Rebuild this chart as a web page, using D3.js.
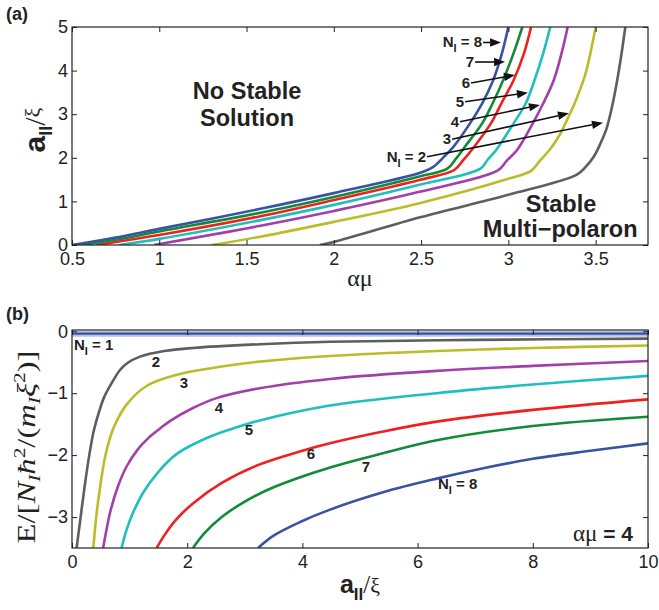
<!DOCTYPE html>
<html><head><meta charset="utf-8">
<script src="https://cdn.jsdelivr.net/npm/d3@7/dist/d3.min.js"></script>
<style>body{margin:0;background:#fff}svg{display:block}</style>
</head><body>
<svg id="chart" width="659" height="610"></svg>
<script>
// ---------- data: panel (a)  a_II/xi vs alpha*mu ----------
const aN8 = [[0.5,0],[0.75,0.17],[1.0,0.37],[1.58,0.83],[2.0,1.19],[2.49,1.65],[2.57,1.79],[2.625,2.0],[2.685,2.25],[2.78,2.79],[2.85,3.25],[2.91,3.75],[2.96,4.35],[3.0,5]];
const aN7 = [[0.56,0],[0.75,0.12],[1.0,0.31],[1.58,0.74],[2.0,1.1],[2.49,1.57],[2.65,1.75],[2.70,1.98],[2.75,2.25],[2.85,2.79],[2.91,3.25],[2.97,3.78],[3.03,4.4],[3.08,5]];
const aN6 = [[0.64,0],[0.75,0.07],[1.0,0.23],[1.58,0.66],[2.0,1.03],[2.49,1.49],[2.69,1.72],[2.74,1.94],[2.79,2.18],[2.90,2.79],[2.96,3.25],[3.03,3.78],[3.09,4.4],[3.13,5]];
const aN5 = [[0.77,0],[1.0,0.14],[1.58,0.57],[2.0,0.92],[2.49,1.38],[2.84,1.75],[2.88,1.95],[2.93,2.18],[3.03,2.79],[3.10,3.25],[3.15,3.78],[3.20,4.4],[3.24,5]];
const aN4 = [[0.97,0],[1.58,0.44],[2.0,0.78],[2.49,1.22],[2.94,1.71],[2.99,1.93],[3.05,2.18],[3.14,2.79],[3.20,3.25],[3.26,3.78],[3.305,4.4],[3.34,5]];
const aN3 = [[1.30,0],[1.58,0.19],[2.0,0.53],[2.49,0.96],[3.0,1.52],[3.13,1.70],[3.18,1.93],[3.24,2.2],[3.29,2.5],[3.34,2.9],[3.39,3.35],[3.44,3.9],[3.47,4.4],[3.50,5]];
const aN2 = [[1.92,0],[2.0,0.07],[2.5,0.64],[3.0,1.15],[3.39,1.61],[3.44,1.78],[3.49,2.03],[3.53,2.35],[3.56,2.64],[3.59,3.1],[3.62,3.7],[3.645,4.3],[3.67,5]];

// ---------- data: panel (b)  energy vs a_II/xi (alpha*mu = 4) ----------
const bN1 = [[0,-0.04],[10,-0.04]];
const bN2 = [[0.08,-3.5],[0.15,-3.0],[0.22,-2.5],[0.30,-2.0],[0.38,-1.6],[0.47,-1.3],[0.56,-1.06],[0.7,-0.82],[0.83,-0.63],[0.95,-0.52],[1.18,-0.41],[1.6,-0.32],[2.1,-0.27],[3.26,-0.21],[4.48,-0.17],[7,-0.14],[10,-0.12]];
const bN3 = [[0.37,-3.5],[0.42,-3.0],[0.49,-2.5],[0.57,-2.05],[0.66,-1.72],[0.75,-1.5],[0.95,-1.18],[1.3,-0.88],[1.875,-0.69],[2.6,-0.57],[3.26,-0.49],[4.48,-0.40],[6.33,-0.32],[8,-0.27],[10,-0.23]];
const bN4 = [[0.54,-3.5],[0.6,-3.2],[0.66,-2.93],[0.8,-2.5],[0.95,-2.18],[1.15,-1.9],[1.32,-1.73],[1.53,-1.57],[1.70,-1.45],[2.1,-1.24],[2.51,-1.08],[3.26,-0.92],[4.48,-0.77],[6.33,-0.64],[8,-0.56],[10,-0.48]];
const bN5 = [[0.86,-3.5],[0.95,-3.2],[1.05,-2.95],[1.24,-2.6],[1.5,-2.27],[1.82,-1.98],[2.4,-1.70],[2.86,-1.55],[3.26,-1.44],[4.48,-1.2],[6.33,-1.0],[8,-0.86],[10,-0.72]];
const bN6 = [[1.47,-3.5],[1.6,-3.3],[1.8,-3.05],[2.1,-2.78],[2.6,-2.45],[3.26,-2.15],[4.0,-1.93],[4.48,-1.81],[5.4,-1.62],[6.33,-1.46],[8,-1.27],[10,-1.10]];
const bN7 = [[2.1,-3.5],[2.3,-3.26],[2.6,-3.0],[3.0,-2.75],[3.5,-2.52],[4.48,-2.2],[5.4,-1.97],[6.33,-1.76],[8,-1.53],[10,-1.38]];
const bN8 = [[3.23,-3.5],[3.5,-3.3],[3.96,-3.08],[4.48,-2.88],[5.4,-2.6],[6.33,-2.38],[7.1,-2.22],[8,-2.06],[9,-1.93],[10,-1.81]];

// ---------- ticks ----------
const ticksAx = [0.5,1,1.5,2,2.5,3,3.5];
const ticksAy = [0,1,2,3,4,5];
const ticksBx = [0,2,4,6,8,10];
const ticksBy = [0,-1,-2,-3];

// ---------- colours per N_I ----------
const seriesN = [1,2,3,4,5,6,7,8];
const seriesColor = ["#3953a4","#5e5e5e","#bcbc2a","#a23fa8","#1fbfbf","#f02020","#118a3a","#3953a4"];

// panel (a) arrow labels: [label N, start x, start y, tip x, tip y]
const arrowsA = [
  [8, 2.855, 4.645, 2.958, 4.645],
  [7, 2.809, 4.197, 2.981, 4.197],
  [6, 2.786, 3.716, 3.038, 3.899],
  [5, 2.752, 3.287, 3.112, 3.493],
  [4, 2.723, 2.828, 3.181, 3.211],
  [3, 2.677, 2.424, 3.347, 3.021],
  [2, 2.534, 2.025, 3.542, 2.805]
];
// panel (b) curve labels: [N, x, y]
const labelsB = [[1,0.035,-0.30],[2,1.458,-0.578],[3,1.944,-0.917],[4,2.552,-1.32],[5,3.073,-1.67],[6,4.149,-2.06],[7,5.104,-2.28],[8,6.354,-2.55]];

const SANS = "'Liberation Sans', Arial, Helvetica, sans-serif";
const SERIF = "'Liberation Serif', 'Times New Roman', serif";

const svg = d3.select("#chart");
const colorOf = n => seriesColor[seriesN.indexOf(n)];

function rich(parent, parts, attrs){
  const t = parent.append("text");
  Object.entries(attrs).forEach(([k,v]) => t.attr(k, v));
  let shift = 0;
  parts.forEach(p => {
    const s = t.append("tspan").text(p.t);
    const target = p.dy || 0;
    if (target !== shift) { s.attr("dy", target - shift); shift = target; }
    if (p.size) s.attr("font-size", p.size);
    if (p.italic) s.attr("font-style", "italic");
    if (p.family) s.attr("font-family", p.family);
    if (p.weight) s.attr("font-weight", p.weight);
  });
  return t;
}

const fmt = d3.format("~g");
function frameAxes(g, x, y, xt, yt){
  const [x0,x1] = x.range(), [y0,y1] = y.range();
  const styleAxis = sel => {
    sel.select(".domain").remove();
    sel.selectAll(".tick line").attr("stroke","#222").attr("stroke-width",1);
    sel.selectAll("text").attr("font-family",SANS).attr("font-size",18).attr("fill","#222");
  };
  g.append("g").attr("transform",`translate(0,${y0})`)
    .call(d3.axisBottom(x).tickValues(xt).tickSize(-5).tickPadding(7).tickFormat(fmt)).call(styleAxis);
  g.append("g").attr("transform",`translate(0,${y1})`)
    .call(d3.axisTop(x).tickValues(xt).tickSize(-5).tickFormat("")).call(styleAxis);
  g.append("g").attr("transform",`translate(${x0},0)`)
    .call(d3.axisLeft(y).tickValues(yt).tickSize(-5).tickPadding(4).tickFormat(fmt)).call(styleAxis);
  g.append("g").attr("transform",`translate(${x1},0)`)
    .call(d3.axisRight(y).tickValues(yt).tickSize(-5).tickFormat("")).call(styleAxis);
  g.append("rect").attr("x",x0).attr("y",y1).attr("width",x1-x0).attr("height",y0-y1)
    .attr("fill","none").attr("stroke","#222").attr("stroke-width",1.2);
}

const curve = d3.curveCatmullRom.alpha(0.5);

// ================= panel (a) =================
const xA = d3.scaleLinear().domain([0.5,3.8]).range([72,648]);
const yA = d3.scaleLinear().domain([0,5]).range([245,27]);
const gA = svg.append("g");
svg.append("clipPath").attr("id","clipA").append("rect")
  .attr("x",72).attr("y",27).attr("width",576).attr("height",218);
const lineA = d3.line().x(d=>xA(d[0])).y(d=>yA(d[1])).curve(curve);
const curvesA = [[2,aN2],[3,aN3],[4,aN4],[5,aN5],[6,aN6],[7,aN7],[8,aN8]];
gA.append("g").attr("clip-path","url(#clipA)").selectAll("path").data(curvesA).join("path")
  .attr("d", d => lineA(d[1])).attr("fill","none").attr("stroke", d => colorOf(d[0]))
  .attr("stroke-width",2.6).attr("stroke-linejoin","round");
frameAxes(gA, xA, yA, ticksAx, ticksAy);

// arrows
arrowsA.forEach(a => {
  const [n,sx,sy,tx,ty] = a;
  const X0 = xA(sx), Y0 = yA(sy), X1 = xA(tx), Y1 = yA(ty);
  const ang = Math.atan2(Y1-Y0, X1-X0), L = 11, W = 4.2;
  const bx = X1 - L*Math.cos(ang), by = Y1 - L*Math.sin(ang);
  gA.append("line").attr("x1",X0).attr("y1",Y0).attr("x2",bx).attr("y2",by)
    .attr("stroke","#111").attr("stroke-width",1.6);
  gA.append("path").attr("d",`M${X1},${Y1}L${bx - W*Math.sin(ang)},${by + W*Math.cos(ang)}L${bx + W*Math.sin(ang)},${by - W*Math.cos(ang)}Z`)
    .attr("fill","#111");
  const parts = (n===8 || n===2) ? [{t:"N"},{t:"I",dy:5,size:11},{t:" = "+n,dy:0}] : [{t:String(n)}];
  rich(gA, parts, {x:X0-1, y:Y0+5, "text-anchor":"end", "font-family":SANS, "font-weight":"bold", "font-size":15, fill:"#222"});
});

// region labels
const regA = [["No Stable",1.503,3.35],["Solution",1.503,2.73],["Stable",3.302,0.757],["Multi\u2212polaron",3.297,0.18]];
gA.selectAll("text.reg").data(regA).join("text").attr("class","reg")
  .attr("x",d=>xA(d[1])).attr("y",d=>yA(d[2])).attr("text-anchor","middle")
  .attr("font-family",SANS).attr("font-weight","bold").attr("font-size",23.5).attr("fill","#222").text(d=>d[0]);

// axis labels (a)
svg.append("text").attr("x",360).attr("y",286).attr("text-anchor","middle")
  .attr("font-family",SERIF).attr("font-size",24).attr("fill","#222").text("\u03b1\u03bc");
rich(svg, [{t:"a"},{t:"II",dy:7,size:18},{t:"/",dy:0,weight:"normal",family:SERIF},{t:"\u03be",dy:-5,weight:"normal",family:SERIF,size:22}],
  {transform:"translate(45,130) rotate(-90)","text-anchor":"middle","font-family":SANS,"font-weight":"bold","font-size":30,fill:"#222"});
svg.append("text").attr("x",6).attr("y",20).attr("font-family",SANS).attr("font-weight","bold").attr("font-size",18).attr("fill","#222").text("(a)");

// ================= panel (b) =================
const xB = d3.scaleLinear().domain([0,10]).range([72,648]);
const yB = d3.scaleLinear().domain([-3.5,0.02]).range([548,330]);
const gB = svg.append("g");
svg.append("clipPath").attr("id","clipB").append("rect")
  .attr("x",72).attr("y",330).attr("width",576).attr("height",218);
const lineB = d3.line().x(d=>xB(d[0])).y(d=>yB(d[1])).curve(curve);
const cB = gB.append("g").attr("clip-path","url(#clipB)");
cB.append("path").attr("d", lineB(bN1)).attr("fill","none").attr("stroke","#b8c0e4").attr("stroke-width",6);
const curvesB = [[1,bN1],[2,bN2],[3,bN3],[4,bN4],[5,bN5],[6,bN6],[7,bN7],[8,bN8]];
cB.selectAll("path.c").data(curvesB).join("path").attr("class","c")
  .attr("d", d => lineB(d[1])).attr("fill","none").attr("stroke", d => colorOf(d[0]))
  .attr("stroke-width", d => d[0]===1 ? 2.2 : 2.6);
frameAxes(gB, xB, yB, ticksBx, ticksBy);

labelsB.forEach(l => {
  const [n,x,y] = l;
  const named = (n===1 || n===8);
  const parts = named ? [{t:"N"},{t:"I",dy:5,size:11},{t:" = "+n,dy:0}] : [{t:String(n)}];
  rich(gB, parts, {x:xB(x), y:yB(y), "text-anchor": named ? "start" : "middle",
    "font-family":SANS, "font-weight":"bold", "font-size":15, fill:"#222"});
});
rich(gB, [{t:"\u03b1\u03bc",family:SERIF,weight:"normal",size:23},{t:" = 4"}],
  {x:xB(9.74), y:yB(-3.39), "text-anchor":"end","font-family":SANS,"font-weight":"bold","font-size":21,fill:"#222"});

// axis labels (b)
rich(svg, [{t:"a"},{t:"II",dy:7,size:17},{t:"/",dy:0,weight:"normal",family:SERIF},{t:"\u03be",weight:"normal",family:SERIF,size:22}],
  {x:360, y:593, "text-anchor":"middle","font-family":SANS,"font-weight":"bold","font-size":25,fill:"#222"});
const ylab = rich(svg, [{t:"E/["},{t:"N",italic:true},{t:"I",italic:true,dy:5,size:17},{t:"\u0127",italic:true,dy:0},{t:"2",dy:-10,size:17},
   {t:"/(",dy:0},{t:"m",italic:true},{t:"I",italic:true,dy:5,size:17},{t:"\u03be",italic:true,dy:0},{t:"2",dy:-10,size:17},{t:")]",dy:0}],
  {"text-anchor":"middle","font-family":SERIF,"font-size":26,fill:"#222"});
const yl = ylab.node().getBBox().width;
const kx = yl > 0 ? 193 / yl : 1;
ylab.attr("transform",`translate(35,447) rotate(-90) scale(${kx},1)`);
svg.append("text").attr("x",6).attr("y",320).attr("font-family",SANS).attr("font-weight","bold").attr("font-size",18).attr("fill","#222").text("(b)");
</script>
</body></html>
